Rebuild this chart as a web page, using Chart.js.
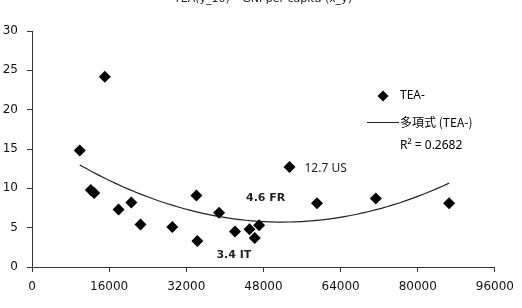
<!DOCTYPE html>
<html><head><meta charset="utf-8">
<script src="https://cdn.jsdelivr.net/npm/chart.js@4"></script>
<style>html,body{margin:0;padding:0;background:#fff;}#wrap{width:522px;height:308px;position:relative;}</style>
</head><body><div id="wrap"><canvas id="c" width="522" height="308"></canvas></div>
<script>
// GNI per capita (x) and TEA (y)
const gniValues = [9900, 15100, 12200, 12900, 17950, 20600, 22500, 29100, 34100, 34300, 38800, 42100, 45100, 47100, 46200, 53400, 59100, 71300, 86500];
const teaValues = [14.8, 24.2, 9.8, 9.4, 7.3, 8.2, 5.4, 5.1, 9.1, 3.3, 6.9, 4.5, 4.8, 5.3, 3.7, 12.7, 8.1, 8.7, 8.1];
const xTicks = [0, 16000, 32000, 48000, 64000, 80000, 96000];
const yTicks = [0, 5, 10, 15, 20, 25, 30];
const pointLabels = [{idx: 15, text: '12.7 US'}, {idx: 11, text: '4.6 FR'}, {idx: 9, text: '3.4 IT'}];
const titleText = 'TEA(y_10) \u2013 GNI per capita (x_y)';
const legendSeries = 'TEA-';
const legendTrend = '多項式 (TEA-)';
const legendR2 = 'R² = 0.2682';

// quadratic least-squares trend of the data (as the spreadsheet trendline)
function quadFit(xs, ys) {
  const s = 1e4; const S = [0,0,0,0,0], T = [0,0,0];
  xs.forEach((x0, i) => { const x = x0 / s; let p = 1; for (let k = 0; k < 5; k++) { S[k] += p; if (k < 3) T[k] += p * ys[i]; p *= x; } });
  const A = [[S[0],S[1],S[2],T[0]],[S[1],S[2],S[3],T[1]],[S[2],S[3],S[4],T[2]]];
  for (let i = 0; i < 3; i++) { for (let j = i + 1; j < 3; j++) { const f = A[j][i] / A[i][i]; for (let k = i; k < 4; k++) A[j][k] -= f * A[i][k]; } }
  const c = [0,0,0];
  for (let i = 2; i >= 0; i--) { let v = A[i][3]; for (let k = i + 1; k < 3; k++) v -= A[i][k] * c[k]; c[i] = v / A[i][i]; }
  return x => { const t = x / s; return c[0] + c[1] * t + c[2] * t * t; };
}
const fit = quadFit(gniValues, teaValues);
const xMin = Math.min(...gniValues), xMax = Math.max(...gniValues);
const trendPts = [];
for (let i = 0; i <= 60; i++) { const x = xMin + (xMax - xMin) * i / 60; trendPts.push({x, y: fit(x)}); }

const axisColor = '#333';
const overlay = {
  id: 'overlay',
  afterDraw(chart) {
    const ctx = chart.ctx, xs = chart.scales.x, ys = chart.scales.y;
    ctx.save();
    ctx.fillStyle = '#222';
    ctx.font = '11px "DejaVu Sans"';
    ctx.textAlign = 'center'; ctx.textBaseline = 'middle';
    ctx.fillText(titleText, 263, -1);
    ctx.textAlign = 'left';
    pointLabels.forEach(l => {
      const px = xs.getPixelForValue(gniValues[l.idx]), py = ys.getPixelForValue(teaValues[l.idx]);
      if (l.idx === 15) { ctx.font = '12px "Noto Sans"'; ctx.fillText(l.text, px + 15, py + 1); }
      else if (l.idx === 11) { ctx.font = 'bold 11px "DejaVu Sans"'; ctx.fillText(l.text, px + 11, py - 33); }
      else { ctx.font = 'bold 11px "DejaVu Sans"'; ctx.fillText(l.text, px + 19, py + 14); }
    });
    // legend
    ctx.fillStyle = '#000';
    ctx.beginPath(); const cx = 383, cy = 96, r = 5.5;
    ctx.moveTo(cx, cy - r); ctx.lineTo(cx + r, cy); ctx.lineTo(cx, cy + r); ctx.lineTo(cx - r, cy); ctx.closePath(); ctx.fill();
    ctx.font = '12px "Noto Sans"';
    ctx.fillText(legendSeries, 400, 96);
    ctx.strokeStyle = '#222'; ctx.lineWidth = 1;
    ctx.beginPath(); ctx.moveTo(367, 122.5); ctx.lineTo(399, 122.5); ctx.stroke();
    ctx.font = '12px "Noto Sans CJK JP"';
    ctx.fillText(legendTrend, 400, 122);
    ctx.font = '12px "Noto Sans"';
    ctx.fillText(legendR2, 400, 146);
    ctx.restore();
  }
};

new Chart(document.getElementById('c'), {
  type: 'scatter',
  data: {
    datasets: [
      { label: legendSeries, data: gniValues.map((x, i) => ({x, y: teaValues[i]})), pointStyle: 'rectRot', pointRadius: 6, pointHoverRadius: 6, backgroundColor: '#000', borderColor: '#000', borderWidth: 0 },
      { label: legendTrend, type: 'line', data: trendPts, showLine: true, pointRadius: 0, borderColor: '#222', borderWidth: 1.2, fill: false, tension: 0 }
    ]
  },
  options: {
    responsive: false, animation: false, devicePixelRatio: 1,
    layout: { padding: { left: 0, right: 26, top: 31, bottom: 0 } },
    plugins: { legend: { display: false }, tooltip: { enabled: false }, title: { display: false } },
    scales: {
      x: {
        type: 'linear', min: 0, max: 96000,
        afterBuildTicks: s => { s.ticks = xTicks.map(v => ({value: v})); },
        afterFit: s => { s.height = 41; },
        grid: { display: true, drawOnChartArea: false, drawTicks: true, tickLength: 5, color: axisColor, lineWidth: 1 },
        border: { display: true, color: axisColor, width: 1 },
        ticks: { color: '#111', font: { family: 'DejaVu Sans', size: 12 }, padding: 8, maxRotation: 0, autoSkip: false, callback: v => String(v) }
      },
      y: {
        type: 'linear', min: 0, max: 30,
        afterBuildTicks: s => { s.ticks = yTicks.map(v => ({value: v})); },
        afterFit: s => { s.width = 32; },
        grid: { display: true, drawOnChartArea: false, drawTicks: true, tickLength: 5, color: axisColor, lineWidth: 1 },
        border: { display: true, color: axisColor, width: 1 },
        ticks: { color: '#111', font: { family: 'DejaVu Sans', size: 12 }, padding: 9, autoSkip: false, callback: v => String(v) }
      }
    }
  },
  plugins: [overlay]
});
</script></body></html>
